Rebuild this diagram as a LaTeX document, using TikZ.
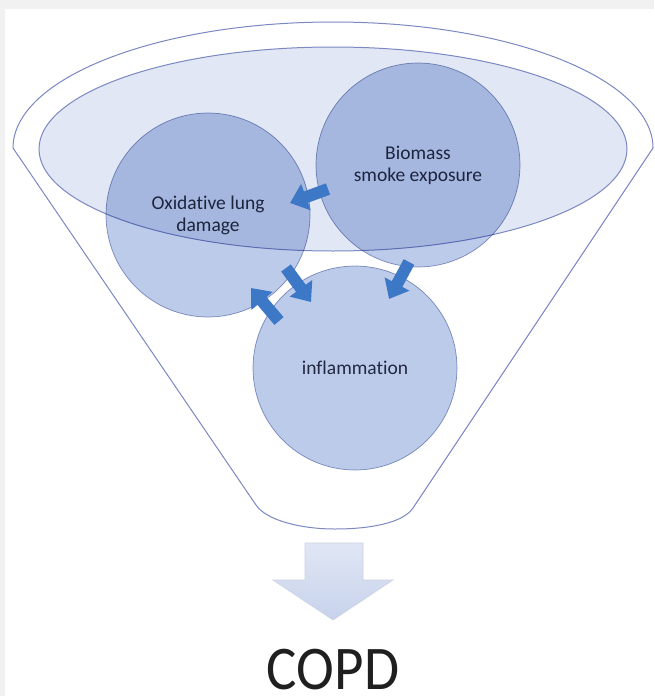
\documentclass[tikz,border=0pt]{standalone}
\usepackage{fontspec}
\setmainfont{Carlito}[Ligatures=NoCommon]
\usetikzlibrary{arrows.meta,calc}
\definecolor{rimline}{HTML}{7B88C2}
\definecolor{bowlfill}{HTML}{E1E7F4}
\definecolor{ballfill}{HTML}{BDCBEA}
\definecolor{ballline}{HTML}{8E9CC6}
\definecolor{flowblue}{HTML}{3D78C6}
\definecolor{labeltext}{HTML}{2D3348}
\definecolor{framegray}{HTML}{F1F1F1}
\definecolor{outtop}{HTML}{E0E6F4}
\definecolor{outbottom}{HTML}{C7D2EB}
\definecolor{outedge}{HTML}{CCD3E4}

\begin{document}
\begin{tikzpicture}[x=1pt,y=-1pt,
  factor/.style={circle, minimum size=204pt, inner sep=0pt, fill=ballfill,
    draw=ballline, line width=0.7pt, text=labeltext, align=center,
    font=\fontsize{19.5}{22}\selectfont},
  flow/.style={draw=flowblue, line width=12pt, -{Triangle[length=17pt,width=27pt]}},
  rim/.style={draw=rimline, line width=1pt, line join=round}]
\useasboundingbox (0,0) rectangle (654,696);
\fill[white] (0,0) rectangle (654,696);
\fill[framegray] (0,0) rectangle (654,9);
\fill[framegray] (0,0) rectangle (5,696);

% funnel outline: upper rim arc, sloping sides, rounded spout
\draw[rim] (13,148) arc[start angle=180, end angle=360, x radius=320, y radius=126]
  -- (413,508) .. controls (403,523) and (370,529) .. (335,529)
  .. controls (300,529) and (266,520) .. (256,505) -- cycle;

% liquid surface inside the funnel
\draw[rim, fill=bowlfill] (333,149) ellipse[x radius=294, y radius=102];

% the three factors
\begin{scope}[blend mode=multiply]
  \node[factor] (bio) at (418,165) {Biomass\\smoke exposure};
  \node[factor] (oxi) at (208,215) {Oxidative lung\\damage};
  \node[factor] (inf) at (355,368) {inflammation};
\end{scope}

% interactions between the factors
\draw[flow] ($(bio.center)+(-90,24)$) -- ($(oxi.center)+(82,-12)$);
\draw[flow] ($(oxi.center)+(78,53)$) -- ($(inf.center)+(-44,-66)$);
\draw[flow] ($(inf.center)+(-76,-47)$) -- ($(oxi.center)+(43,73)$);
\draw[flow] ($(bio.center)+(-9,97)$) -- ($(inf.center)+(34,-69)$);

% outcome arrow and label
\node[font=\fontsize{57}{62}\selectfont, text=black!88, anchor=base, inner sep=0pt]
  (copd) at (333,689) {\scalebox{1}[1.09]{COPD}};
\draw[draw=outedge, line width=0.6pt, top color=outtop, bottom color=outbottom]
  (305,543) -- (363,543) -- (363,580) -- (393,580) -- (333,620) -- (273,580) -- (305,580) -- cycle;
\end{tikzpicture}
\end{document}
